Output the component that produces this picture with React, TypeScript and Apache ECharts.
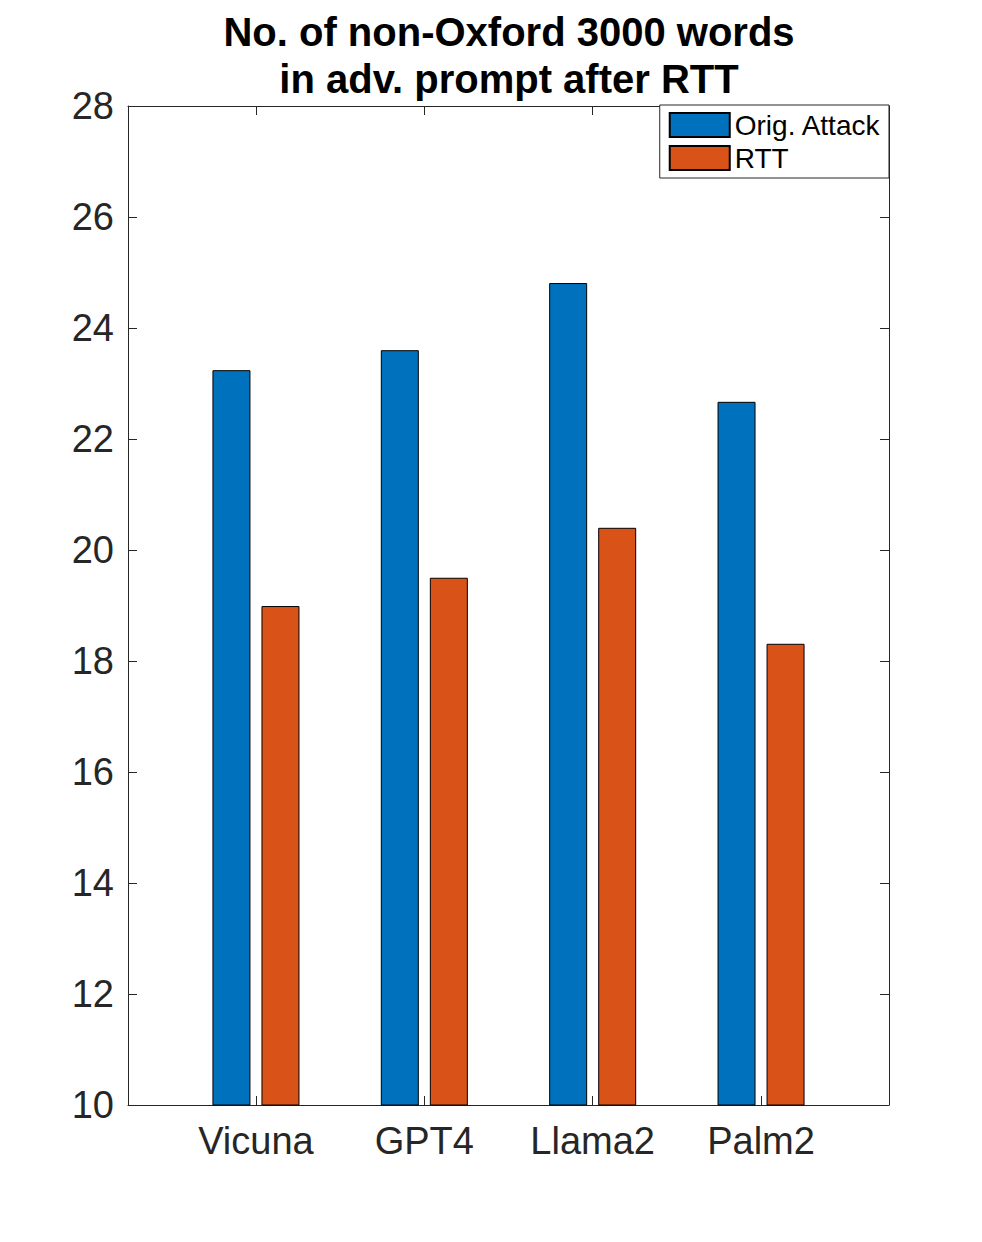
import React, { useEffect, useRef } from "react";
import * as echarts from "echarts";

const categories = ["Vicuna", "GPT4", "Llama2", "Palm2"];
const origAttack = [23.24, 23.6, 24.81, 22.67];
const rtt = [18.99, 19.5, 20.4, 18.31];
const seriesNames = ["Orig. Attack", "RTT"];
const yTicks = [10, 12, 14, 16, 18, 20, 22, 24, 26, 28];
const titleText = "No. of non-Oxford 3000 words\nin adv. prompt after RTT";

const FONT = "Helvetica, Arial, 'Liberation Sans', sans-serif";
const AXIS = "#262626";

export default function App() {
  const ref = useRef<HTMLDivElement>(null);
  useEffect(() => {
    if (!ref.current) return;
    const chart = echarts.init(ref.current, undefined, { renderer: "svg" });
    const xPos = categories.map((_, i) => i + 1);
    const axisCommon = {
      axisLine: { show: true, lineStyle: { color: AXIS, width: 1 } },
      axisTick: { show: true, inside: true, length: 9, lineStyle: { color: AXIS } },
      splitLine: { show: false },
    };
    chart.setOption({
      animation: false,
      backgroundColor: "#ffffff",
      title: {
        text: titleText,
        left: 509,
        top: 8,
        padding: 0,
        textAlign: "center",
        textStyle: {
          fontFamily: FONT,
          fontSize: 40,
          fontWeight: "bold",
          color: "#000",
          lineHeight: 47,
        },
      },
      legend: {
        orient: "vertical",
        right: 93,
        top: 105,
        padding: [6, 8, 6, 9],
        itemWidth: 60,
        itemHeight: 24,
        itemGap: 5,
        backgroundColor: "#ffffff",
        borderColor: AXIS,
        borderWidth: 1,
        borderRadius: 0,
        icon: "rect",
        data: seriesNames,
        textStyle: { fontFamily: FONT, fontSize: 28, color: "#000", padding: [0, 0, 0, 0] },
      },
      grid: { left: 128, right: 93, top: 106, bottom: 137, containLabel: false },
      xAxis: [
        {
          type: "value",
          min: 0.24,
          max: 4.76,
          position: "bottom",
          ...axisCommon,
          axisTick: { ...axisCommon.axisTick, customValues: xPos },
          axisLabel: {
            customValues: xPos,
            formatter: (v: number) => categories[Math.round(v) - 1] ?? "",
            fontFamily: FONT,
            fontSize: 38,
            color: AXIS,
            margin: 17,
          },
        },
        {
          type: "value",
          min: 0.24,
          max: 4.76,
          position: "top",
          ...axisCommon,
          axisTick: { ...axisCommon.axisTick, customValues: xPos },
          axisLabel: { show: false },
        },
      ],
      yAxis: [
        {
          type: "value",
          min: 10,
          max: 28,
          interval: 2,
          position: "left",
          ...axisCommon,
          axisLabel: {
            fontFamily: FONT,
            fontSize: 38,
            color: AXIS,
            margin: 14,
            customValues: yTicks,
          },
        },
        {
          type: "value",
          min: 10,
          max: 28,
          interval: 2,
          position: "right",
          ...axisCommon,
          axisLabel: { show: false },
        },
      ],
      series: [
        {
          name: seriesNames[0],
          type: "bar",
          xAxisIndex: 0,
          yAxisIndex: 0,
          barWidth: 38,
          barGap: "29%",
          data: xPos.map((x, i) => [x, origAttack[i]]),
          itemStyle: { color: "#0072BD", borderColor: "#000", borderWidth: 1 },
        },
        {
          name: seriesNames[1],
          type: "bar",
          xAxisIndex: 0,
          yAxisIndex: 0,
          barWidth: 38,
          barGap: "29%",
          data: xPos.map((x, i) => [x, rtt[i]]),
          itemStyle: { color: "#D95319", borderColor: "#000", borderWidth: 1 },
        },
      ],
    });
    return () => chart.dispose();
  }, []);
  return <div ref={ref} style={{ width: 982, height: 1242, margin: -8 }} />;
}
